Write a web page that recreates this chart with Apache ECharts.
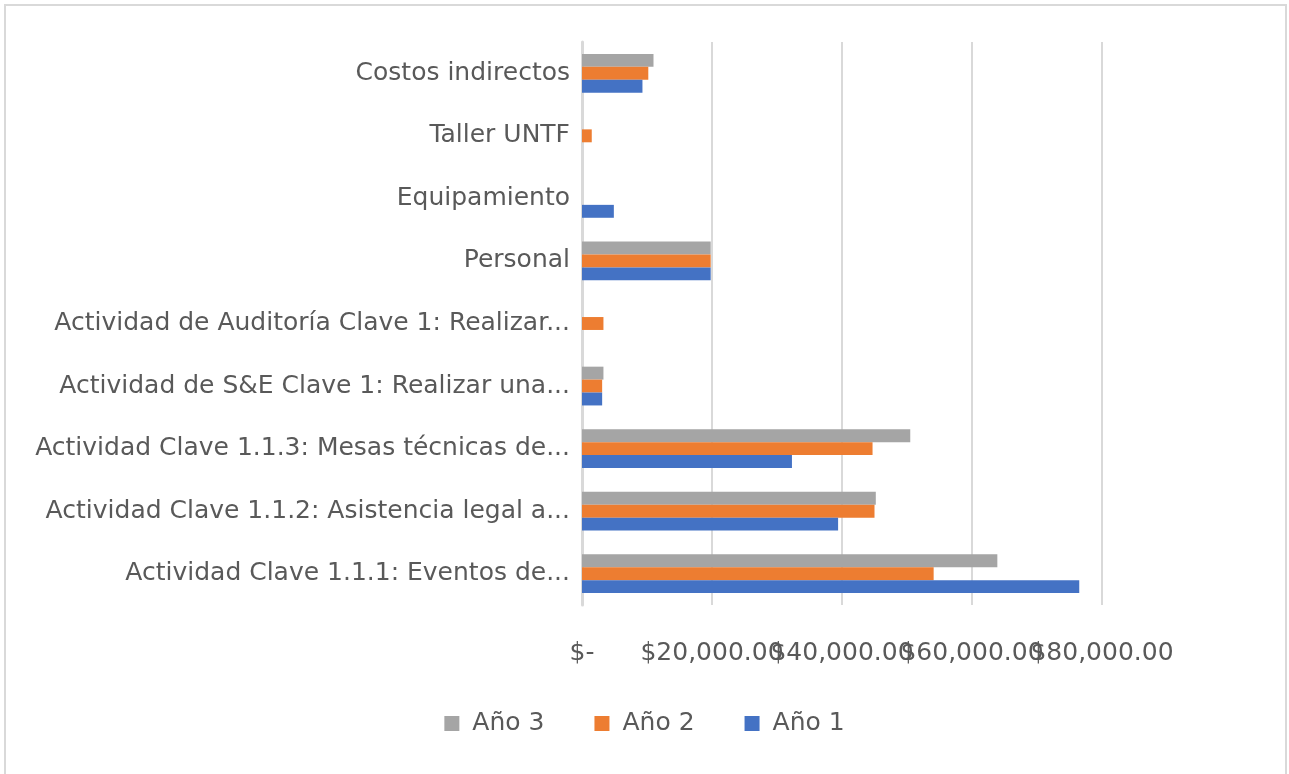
<!DOCTYPE html>
<html>
<head>
<meta charset="utf-8">
<script src="https://cdn.jsdelivr.net/npm/echarts@6/dist/echarts.min.js"></script>
<style>
  html, body { margin: 0; padding: 0; background: #fff; overflow: hidden; }
  .frame {
    position: absolute; left: 4px; top: 4px; width: 1279px; height: 780px;
    border: 2px solid #d9d9d9;
  }
  #chart { position: absolute; left: 0; top: 0; width: 1289px; height: 774px; }
</style>
</head>
<body>
<div class="frame"></div>
<div id="chart"></div>
<script>
// categories, bottom to top
const categories = [
  'Actividad Clave 1.1.1: Eventos de...',
  'Actividad Clave 1.1.2: Asistencia legal a...',
  'Actividad Clave 1.1.3: Mesas técnicas de...',
  'Actividad de S&E Clave 1: Realizar una...',
  'Actividad de Auditoría Clave 1: Realizar...',
  'Personal',
  'Equipamiento',
  'Taller UNTF',
  'Costos indirectos'
];
const seriesNames = ['Año 3', 'Año 2', 'Año 1'];
const year1 = [76500, 39400, 32300, 3100, 0, 19800, 4900, 0, 9300];
const year2 = [54100, 45000, 44700, 3100, 3300, 19800, 0, 1500, 10200];
const year3 = [63900, 45200, 50500, 3300, 0, 19800, 0, 0, 11000];
const xTicks = [0, 20000, 40000, 60000, 80000];

// Año 3 first so it sits on top of each group
const seriesData = [year3, year2, year1];
const colors = ['#a5a5a5', '#ed7d31', '#4472c4'];
const fontFamily = '"DejaVu Sans", "Noto Sans", sans-serif';

const chart = echarts.init(document.getElementById('chart'));

function money(v) {
  if (v === 0) return '$-';
  return '$' + v.toLocaleString('en-US', { minimumFractionDigits: 2, maximumFractionDigits: 2 });
}

// the labels overlap like in Excel; echarts would drop one of the last two,
// so the next-to-last tick label goes on a twin axis
const lastButOne = xTicks[xTicks.length - 2];

function xAxisBase() {
  return {
    type: 'value',
    position: 'bottom',
    min: xTicks[0],
    max: xTicks[xTicks.length - 1],
    interval: 20000,
    axisLine: { show: false },
    axisTick: { show: false },
    axisLabel: {
      color: '#595959',
      fontSize: 25,
      margin: 36,
      showMinLabel: true,
      showMaxLabel: true
    }
  };
}

const xMain = xAxisBase();
xMain.splitLine = { lineStyle: { color: '#d9d9d9', width: 2 } };
xMain.axisLabel.formatter = v => (v === lastButOne ? '' : money(v));

const xTwin = xAxisBase();
xTwin.splitLine = { show: false };
xTwin.axisLabel.formatter = v => (v === lastButOne ? money(v) : '');

const option = {
  animation: false,
  textStyle: { fontFamily: fontFamily },
  legend: {
    bottom: 33,
    left: 'center',
    itemWidth: 15,
    itemHeight: 15,
    itemGap: 50,
    icon: 'rect',
    textStyle: { color: '#595959', fontSize: 25, fontFamily: fontFamily, padding: [0, 0, 0, 8] },
    data: ['Año 3', 'Año 2', 'Año 1']
  },
  grid: { left: 582, right: 187, top: 42, bottom: 169, containLabel: false },
  xAxis: [xMain, xTwin],
  yAxis: {
    type: 'category',
    data: categories,
    axisLine: { show: true, lineStyle: { color: '#d9d9d9', width: 3 } },
    axisTick: { show: false },
    axisLabel: { color: '#595959', fontSize: 25, margin: 12 }
  },
  series: seriesNames.map((name, i) => ({
    name: name,
    type: 'bar',
    xAxisIndex: 0,
    data: seriesData[i],
    barGap: '0%',
    barCategoryGap: '38%',
    itemStyle: { color: colors[i] }
  }))
};

chart.setOption(option);
</script>
</body>
</html>
